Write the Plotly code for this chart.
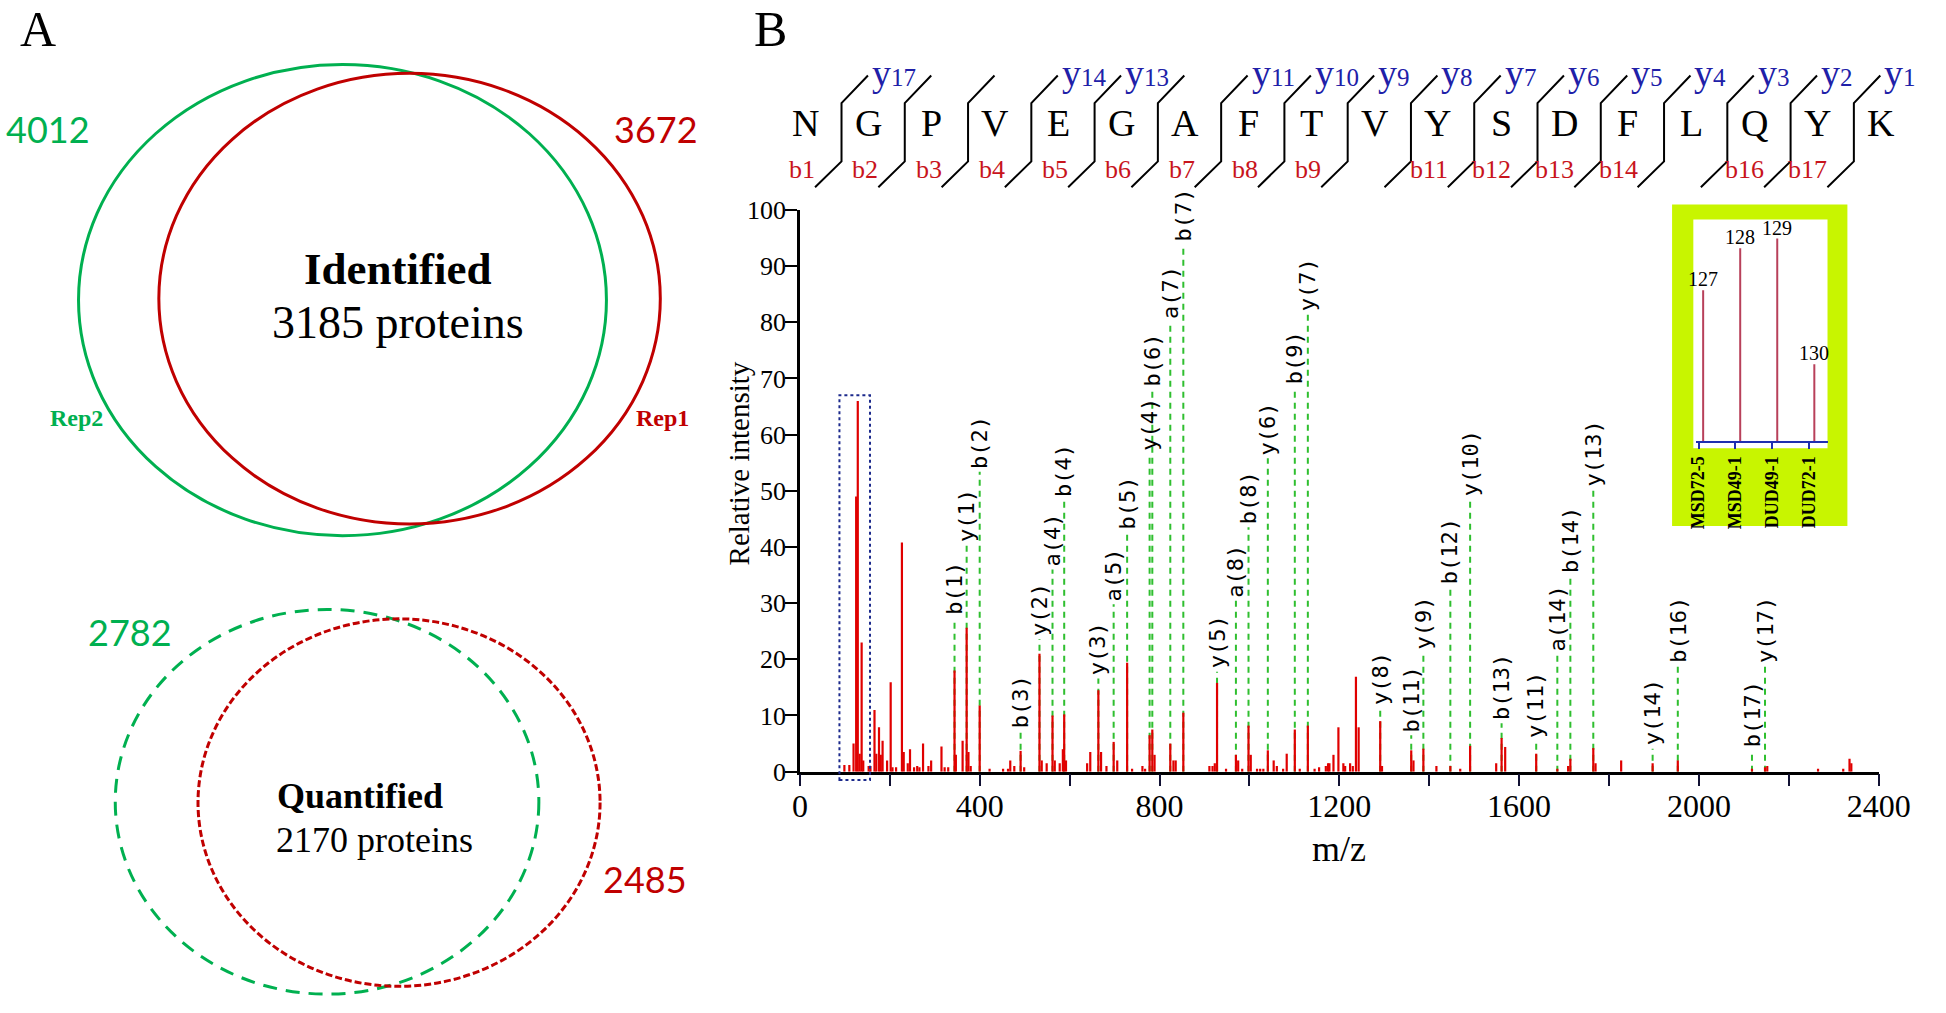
import plotly.graph_objects as go

W, H = 1946, 1013


def px(x):
    return x / W


def py(y):
    return 1 - y / H


# ---------------- data ----------------
ID_REP2, ID_REP1, ID_BOTH = 4012, 3672, 3185
Q_REP2, Q_REP1, Q_BOTH = 2782, 2485, 2170

SEQUENCE = list("NGPVEGAFTVYSDFLQYK")
Y_IONS_SHOWN = [17, 14, 13, 11, 10, 9, 8, 7, 6, 5, 4, 3, 2, 1]
B_IONS_SHOWN = [1, 2, 3, 4, 5, 6, 7, 8, 9, 11, 12, 13, 14, 16, 17]

PEAK_MZ = [99, 110, 119.4, 125.2, 128.8, 133.1, 137.4, 141, 153, 157, 166, 170, 176, 180, 184, 194,
           202, 206, 214, 227, 231, 240, 245, 254, 261, 266, 274, 286, 292, 315, 322, 330, 344, 347,
           362, 371, 375, 380, 400, 422, 452, 463, 468, 477, 491, 499, 533, 538, 549, 562, 567, 578,
           585, 588, 592, 639, 646, 664, 670, 682, 698, 706, 728, 739, 762, 768, 778, 784, 789, 824,
           831, 836, 853, 911, 918, 923, 928, 948, 970, 975, 984, 998, 1003, 1017, 1024, 1031, 1041,
           1054, 1061, 1075, 1083, 1101, 1112, 1130, 1145, 1155, 1170, 1175, 1178, 1187, 1198, 1209,
           1213, 1224, 1230, 1237, 1243, 1291, 1295, 1360, 1365, 1387, 1416, 1447, 1469, 1491, 1549,
           1561, 1569, 1638, 1685, 1709, 1714, 1765, 1770, 1827, 1897, 1953, 2118, 2147, 2152, 2265,
           2321, 2335, 2339]
PEAK_INT = [1.2, 1.2, 5, 49, 66, 3.2, 23, 2, 1, 1, 11, 3.2, 7.9, 3, 5.5, 2,
            15.9, 0.8, 0.8, 40.8, 3.5, 1.5, 4, 0.8, 1, 0.8, 5, 1, 2, 4.5, 0.8, 0.8, 18, 3,
            5.5, 25.6, 3.5, 1, 11.8, 0.5, 0.5, 0.5, 2, 1, 3.7, 0.8, 21, 2, 1.5, 10, 2, 1.5,
            4, 10.2, 2, 1.5, 3.5, 14.5, 3.5, 1, 5.3, 2, 19.4, 0.5, 1, 0.5, 6.5, 7.5, 3, 5,
            2, 2, 10.5, 1, 1, 1.5, 15.8, 0.5, 3, 2, 0.5, 8.2, 3, 0.5, 0.5, 0.5, 3.8,
            2, 1, 0.5, 3.2, 7.5, 0.5, 8.2, 0.5, 0.8, 1, 1.5, 1.5, 3, 7.9, 1.5,
            1, 1.5, 1, 16.9, 7.9, 9, 1, 3.8, 2, 4.1, 1, 1, 0.5, 4.6, 1.5,
            6, 4.4, 3.2, 0.5, 1, 2.3, 4.2, 1.5, 2, 1.5, 2, 0.5, 0.8, 1, 0.5,
            0.5, 2.3, 1.5]

ION_LABELS = ["b(1)", "y(1)", "b(2)", "b(3)", "y(2)", "a(4)", "b(4)", "y(3)", "a(5)", "b(5)",
              "y(4)", "b(6)", "a(7)", "b(7)", "y(5)", "a(8)", "b(8)", "y(6)", "b(9)", "y(7)",
              "y(8)", "b(11)", "y(9)", "b(12)", "y(10)", "b(13)", "y(11)", "a(14)", "b(14)",
              "y(13)", "y(14)", "b(16)", "b(17)", "y(17)"]
ION_MZ = [344, 371, 400, 491, 533, 562, 588, 664, 698, 728,
          778, 784, 824, 853, 928, 970, 998, 1041, 1101, 1130,
          1291, 1360, 1387, 1447, 1491, 1561, 1638, 1685, 1714,
          1765, 1897, 1953, 2118, 2147]
ION_TOP = [27.4, 40.4, 53.4, 7.2, 23.6, 36, 48.3, 16.6, 29.8, 42.5,
           56.6, 68, 80, 93.8, 17.8, 30.5, 43.5, 55.8, 68.5, 81.5,
           11.3, 6.5, 21.2, 32.9, 48.5, 8.6, 5.5, 20.9, 34.9,
           50.3, 4.1, 18.8, 3.8, 18.8]

X_TICKS = list(range(0, 2401, 200))
X_TICKTEXT = [str(v) if v % 400 == 0 else "" for v in X_TICKS]
Y_TICKS = list(range(0, 101, 10))

REPORTER_NAMES = ["MSD72-5", "MSD49-1", "DUD49-1", "DUD72-1"]
REPORTER_TICKS = [127, 128, 129, 130]
REPORTER_MZ = [127.125, 128.128, 129.131, 130.135]
REPORTER_LABELS = ["127", "128", "129", "130"]
REPORTER_INT = [0.745, 0.953, 1.0, 0.38]

BOX_MZ = [88, 156]
BOX_TOP = 67

# ---------------- styles ----------------
GREEN = "#00b050"
RED = "#c00000"
SERIF = "Liberation Serif"
MONO = "DejaVu Sans Mono"
SANS = "Lato"

fig = go.Figure()

# label guide lines (green dashed)
gx, gy = [], []
for m, t in zip(ION_MZ, ION_TOP):
    gx += [m, m, None]
    gy += [0, t, None]
fig.add_trace(go.Scatter(x=gx, y=gy, mode="lines", xaxis="x", yaxis="y",
                         line=dict(color="#2fbf2f", width=2, dash="6px,5px"),
                         hoverinfo="skip", showlegend=False))

# spectrum sticks
sx, sy = [], []
for m, h in zip(PEAK_MZ, PEAK_INT):
    sx += [m, m, None]
    sy += [0, h, None]
fig.add_trace(go.Scatter(x=sx, y=sy, mode="lines", xaxis="x", yaxis="y",
                         line=dict(color="#e00000", width=2.2),
                         hoverinfo="skip", showlegend=False))

# inset reporter ions
rx, ry = [], []
for m, h in zip(REPORTER_MZ, REPORTER_INT):
    rx += [m, m, None]
    ry += [0, h, None]
fig.add_trace(go.Scatter(x=rx, y=ry, mode="lines", xaxis="x2", yaxis="y2",
                         line=dict(color="#b8405a", width=2),
                         hoverinfo="skip", showlegend=False))

annotations = []
shapes = []

# ion labels
for lab, m, t in zip(ION_LABELS, ION_MZ, ION_TOP):
    annotations.append(dict(x=m, y=t, xref="x", yref="y", text=lab, textangle=-90,
                            xanchor="center", yanchor="bottom", showarrow=False, yshift=1,
                            font=dict(family=MONO, size=22, color="black")))

# reporter labels
for lab, m, h in zip(REPORTER_LABELS, REPORTER_MZ, REPORTER_INT):
    annotations.append(dict(x=m, y=h, xref="x2", yref="y2", text=lab, xanchor="center",
                            yanchor="bottom", showarrow=False, yshift=-2,
                            font=dict(family=SERIF, size=20, color="black")))

# dotted box around reporter region
shapes.append(dict(type="rect", xref="x", yref="y domain", x0=BOX_MZ[0], x1=BOX_MZ[1],
                   y0=-0.015, y1=BOX_TOP / 100, line=dict(color="#1c2a8c", width=2, dash="3px,3px")))

# inset background
shapes.append(dict(type="rect", xref="paper", yref="paper", x0=px(1699), x1=px(1878),
                   y0=py(527), y1=py(196), fillcolor="#c8f500", line=dict(width=0), layer="below"))
shapes.append(dict(type="rect", xref="paper", yref="paper", x0=px(1720.7), x1=px(1857.7),
                   y0=py(447), y1=py(211.5), fillcolor="white", line=dict(width=0), layer="below"))

# ---- peptide header ----
LET_X0, LET_DX = 814, 64.6
for i, aa in enumerate(SEQUENCE):
    annotations.append(dict(x=px(LET_X0 + LET_DX * i), y=py(112), xref="paper", yref="paper",
                            text=aa, showarrow=False, xanchor="center", yanchor="middle",
                            font=dict(family=SERIF, size=38, color="black")))
n = len(SEQUENCE)
for k in range(1, n):
    s = 851 + LET_DX * (k - 1)
    path = "M {:.5f},{:.5f} L {:.5f},{:.5f} L {:.5f},{:.5f} L {:.5f},{:.5f}".format(
        px(s - 27), py(178.3), px(s), py(151.7), px(s), py(91.7), px(s + 27), py(63.3))
    shapes.append(dict(type="path", xref="paper", yref="paper", path=path,
                       line=dict(color="black", width=2)))
    yi = n - k
    if yi in Y_IONS_SHOWN:
        annotations.append(dict(x=px(s + 29), y=py(61), xref="paper", yref="paper",
                                text="y<span style='font-size:25px'>%d</span>" % yi,
                                showarrow=False, xanchor="left", yanchor="middle",
                                font=dict(family=SERIF, size=38, color="#2020a8")))
    if k in B_IONS_SHOWN:
        annotations.append(dict(x=px(s - 25), y=py(160), xref="paper", yref="paper",
                                text="b%d" % k, showarrow=False, xanchor="right", yanchor="middle",
                                font=dict(family=SERIF, size=26, color="#c8141c")))

# ---- axis titles & panel labels ----
annotations.append(dict(x=px(746), y=py(463), xref="paper", yref="paper", text="Relative intensity",
                        textangle=-90, showarrow=False, xanchor="center", yanchor="middle",
                        font=dict(family=SERIF, size=29, color="black")))
annotations.append(dict(x=px(1359), y=py(860), xref="paper", yref="paper", text="m/z",
                        showarrow=False, xanchor="center", yanchor="middle",
                        font=dict(family=SERIF, size=36, color="black")))
annotations.append(dict(x=px(31), y=py(15), xref="paper", yref="paper", text="A",
                        showarrow=False, xanchor="center", yanchor="middle",
                        font=dict(family=SERIF, size=50, color="black")))
annotations.append(dict(x=px(778), y=py(15), xref="paper", yref="paper", text="B",
                        showarrow=False, xanchor="center", yanchor="middle",
                        font=dict(family=SERIF, size=50, color="black")))

# ---- Venn diagrams ----
shapes.append(dict(type="circle", xref="paper", yref="paper", x0=px(72), x1=px(611),
                   y0=py(537), y1=py(52), line=dict(color=GREEN, width=3)))
shapes.append(dict(type="circle", xref="paper", yref="paper", x0=px(154), x1=px(666),
                   y0=py(525), y1=py(61), line=dict(color=RED, width=3)))
shapes.append(dict(type="circle", xref="paper", yref="paper", x0=px(109.5), x1=px(542),
                   y0=py(1009), y1=py(613), line=dict(color=GREEN, width=3, dash="14px,9px")))
shapes.append(dict(type="circle", xref="paper", yref="paper", x0=px(194), x1=px(604.5),
                   y0=py(1001), y1=py(622.7), line=dict(color=RED, width=3, dash="7px,3px")))


def txt(x, y, s, size, color="black", family=SERIF, xanchor="center"):
    annotations.append(dict(x=px(x), y=py(y), xref="paper", yref="paper", text=s, showarrow=False,
                            xanchor=xanchor, yanchor="middle",
                            font=dict(family=family, size=size, color=color)))


txt(41, 118, str(ID_REP2), 36, GREEN, SANS)
txt(662, 118, str(ID_REP1), 36, RED, SANS)
txt(70, 416, "<b>Rep2</b>", 24, GREEN)
txt(668, 416, "<b>Rep1</b>", 24, RED)
txt(398, 263, "<b>Identified</b>", 45)
txt(398, 318, "%d proteins" % ID_BOTH, 46)
txt(125, 636, str(Q_REP2), 36, GREEN, SANS)
txt(650, 890, str(Q_REP1), 36, RED, SANS)
txt(273, 805, "<b>Quantified</b>", 36, xanchor="left")
txt(272, 850, "%d proteins" % Q_BOTH, 36, xanchor="left")

fig.update_layout(
    width=W, height=H, autosize=False,
    margin=dict(l=0, r=0, t=0, b=0, pad=0),
    paper_bgcolor="white", plot_bgcolor="rgba(0,0,0,0)",
    showlegend=False,
    xaxis=dict(domain=[px(808.5), px(1910)], range=[0, 2400], tickvals=X_TICKS, ticktext=X_TICKTEXT,
               ticks="outside", ticklen=12, tickwidth=2, tickcolor="#111133", ticklabelstandoff=-8,
               showline=True, linecolor="black", linewidth=2.5, showgrid=False, zeroline=False,
               tickfont=dict(family=SERIF, size=32, color="black"), anchor="y", fixedrange=True),
    yaxis=dict(domain=[py(780), py(201.7)], range=[0, 100], tickvals=Y_TICKS,
               ticks="outside", ticklen=12, tickwidth=2, tickcolor="black", ticklabelstandoff=-6,
               showline=True, linecolor="black", linewidth=2.5, showgrid=False, zeroline=False,
               tickfont=dict(family=SERIF, size=26, color="black"), anchor="x", fixedrange=True),
    xaxis2=dict(domain=[px(1723), px(1858)], range=[126.92, 130.5], tickvals=REPORTER_TICKS,
                ticktext=["<b>%s</b>" % s for s in REPORTER_NAMES], tickangle=-90,
                ticks="outside", ticklen=6, tickwidth=1.5, tickcolor="#1f2fb0",
                showline=True, linecolor="#1f2fb0", linewidth=1.5, showgrid=False, zeroline=False,
                tickfont=dict(family=SERIF, size=18, color="black"), anchor="y2", fixedrange=True),
    yaxis2=dict(domain=[py(440), py(220.8)], range=[0, 1.05], visible=False, anchor="x2",
                fixedrange=True),
    annotations=annotations,
    shapes=shapes,
)

fig.write_html("out.html", include_plotlyjs=True, config={"displayModeBar": False},
               post_script="document.body.style.margin='0';document.body.style.overflow='hidden';")
